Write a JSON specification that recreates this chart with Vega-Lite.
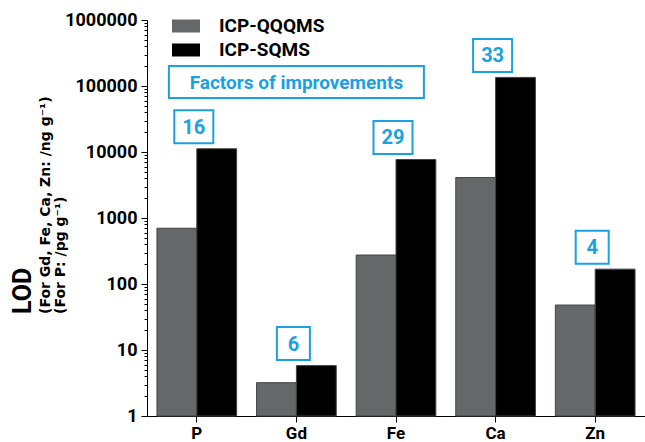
{
  "$schema": "https://vega.github.io/schema/vega-lite/v6.json",
  "width": 498,
  "height": 396,
  "autosize": {"type": "none"},
  "padding": {"left": 147, "top": 20, "right": 0, "bottom": 26},
  "background": "white",
  "config": {"font": "Roboto", "view": {"stroke": null}},
  "title": {
    "text": "LOD",
    "subtitle": ["(For Gd, Fe, Ca, Zn: /ng g⁻¹)", "(For P: /pg g⁻¹)"],
    "orient": "left",
    "anchor": "start",
    "frame": "group",
    "font": "Roboto",
    "fontSize": 25,
    "fontWeight": "bold",
    "color": "black",
    "subtitleFont": "DejaVu Sans",
    "subtitleFontSize": 14,
    "subtitleFontWeight": "bold",
    "subtitleColor": "black",
    "subtitleLineHeight": 15,
    "subtitlePadding": 3,
    "offset": -3,
    "dx": 102
  },
  "datasets": {
    "lod": [
      {"element": "P", "method": "ICP-QQQMS", "lod": 700},
      {"element": "P", "method": "ICP-SQMS", "lod": 11200},
      {"element": "Gd", "method": "ICP-QQQMS", "lod": 3.2},
      {"element": "Gd", "method": "ICP-SQMS", "lod": 5.8},
      {"element": "Fe", "method": "ICP-QQQMS", "lod": 275},
      {"element": "Fe", "method": "ICP-SQMS", "lod": 7700},
      {"element": "Ca", "method": "ICP-QQQMS", "lod": 4100},
      {"element": "Ca", "method": "ICP-SQMS", "lod": 135000},
      {"element": "Zn", "method": "ICP-QQQMS", "lod": 48},
      {"element": "Zn", "method": "ICP-SQMS", "lod": 168}
    ],
    "factors": [
      {"element": "P", "factor": "16", "sqms": 11200},
      {"element": "Gd", "factor": "6", "sqms": 5.8},
      {"element": "Fe", "factor": "29", "sqms": 7700},
      {"element": "Ca", "factor": "33", "sqms": 135000},
      {"element": "Zn", "factor": "4", "sqms": 168}
    ],
    "note": [
      {"element": "Gd", "lod": 115000, "text": "Factors of improvements"}
    ]
  },
  "layer": [
    {
      "data": {"name": "lod"},
      "mark": {"type": "bar", "stroke": "#444444", "strokeWidth": 1},
      "encoding": {
        "x": {
          "field": "element",
          "type": "nominal",
          "sort": ["P", "Gd", "Fe", "Ca", "Zn"],
          "scale": {"paddingInner": 0.2, "paddingOuter": 0.1},
          "axis": {
            "title": null,
            "labelAngle": 0,
            "labelFont": "Roboto",
            "labelFontSize": 17,
            "labelFontWeight": "bold",
            "labelColor": "black",
            "labelPadding": 3,
            "tickSize": 6,
            "tickColor": "black",
            "domainColor": "black",
            "grid": false
          }
        },
        "xOffset": {
          "field": "method",
          "type": "nominal",
          "sort": ["ICP-QQQMS", "ICP-SQMS"],
          "scale": {"paddingInner": 0, "paddingOuter": 0}
        },
        "y": {
          "field": "lod",
          "type": "quantitative",
          "scale": {"type": "log", "domain": [1, 1000000], "nice": false},
          "axis": {
            "title": null,
            "grid": false,
            "values": [1,2,3,4,5,6,7,8,9,10,20,30,40,50,60,70,80,90,100,200,300,400,500,600,700,800,900,1000,2000,3000,4000,5000,6000,7000,8000,9000,10000,20000,30000,40000,50000,60000,70000,80000,90000,100000,200000,300000,400000,500000,600000,700000,800000,900000,1000000],
            "labelExpr": "abs(log(datum.value)/LN10 - round(log(datum.value)/LN10)) < 1e-6 ? format(datum.value, 'd') : ''",
            "labelOverlap": false,
            "labelBound": false,
            "labelFlush": false,
            "labelFont": "Roboto",
            "labelFontSize": 18,
            "labelFontWeight": "bold",
            "labelColor": "black",
            "labelPadding": 4,
            "tickColor": "black",
            "tickSize": {"condition": {"test": "abs(log(datum.value)/LN10 - round(log(datum.value)/LN10)) < 1e-6", "value": 6}, "value": 3},
            "domainColor": "black"
          }
        },
        "y2": {"datum": 1},
        "color": {
          "field": "method",
          "type": "nominal",
          "scale": {"domain": ["ICP-QQQMS", "ICP-SQMS"], "range": ["#646868", "#000000"]},
          "legend": {
            "orient": "none",
            "legendX": 25,
            "legendY": -8,
            "title": null,
            "direction": "vertical",
            "padding": 0,
            "symbolType": "M-1,-0.464H1V0.464H-1Z",
            "symbolSize": 784,
            "symbolStrokeWidth": 0,
            "symbolOpacity": 1,
            "labelFont": "Roboto",
            "labelFontSize": 19,
            "labelFontWeight": "bold",
            "labelColor": "black",
            "labelOffset": 19,
            "rowPadding": 0
          }
        }
      }
    },
    {
      "data": {"name": "factors"},
      "mark": {"type": "point", "filled": false, "stroke": "#1BA1E2", "strokeWidth": 2, "opacity": 1, "yOffset": -22, "xOffset": -3},
      "encoding": {
        "x": {"field": "element", "type": "nominal", "sort": ["P", "Gd", "Fe", "Ca", "Zn"]},
        "y": {"field": "sqms", "type": "quantitative"},
        "shape": {"condition": {"test": "length(datum.factor) < 2", "value": "M-1,-1H1V1H-1Z"}, "value": "M-1,-0.846H1V0.846H-1Z"},
        "size": {"condition": {"test": "length(datum.factor) < 2", "value": 1089}, "value": 1521}
      }
    },
    {
      "data": {"name": "factors"},
      "mark": {"type": "text", "color": "#1BA1E2", "font": "Roboto", "fontSize": 20, "fontWeight": "bold", "baseline": "middle", "align": "center", "yOffset": -21, "xOffset": -3},
      "encoding": {
        "x": {"field": "element", "type": "nominal", "sort": ["P", "Gd", "Fe", "Ca", "Zn"]},
        "y": {"field": "sqms", "type": "quantitative"},
        "text": {"field": "factor"}
      }
    },
    {
      "data": {"name": "note"},
      "mark": {"type": "point", "filled": false, "stroke": "#1BA1E2", "strokeWidth": 2, "opacity": 1, "shape": "M-1,-0.1255H1V0.1255H-1Z", "size": 65025},
      "encoding": {
        "x": {"field": "element", "type": "nominal", "sort": ["P", "Gd", "Fe", "Ca", "Zn"]},
        "y": {"field": "lod", "type": "quantitative"}
      }
    },
    {
      "data": {"name": "note"},
      "mark": {"type": "text", "color": "#1BA1E2", "font": "Roboto", "fontSize": 19, "fontWeight": "bold", "baseline": "middle", "align": "center", "yOffset": 1},
      "encoding": {
        "x": {"field": "element", "type": "nominal", "sort": ["P", "Gd", "Fe", "Ca", "Zn"]},
        "y": {"field": "lod", "type": "quantitative"},
        "text": {"field": "text"}
      }
    }
  ]
}
